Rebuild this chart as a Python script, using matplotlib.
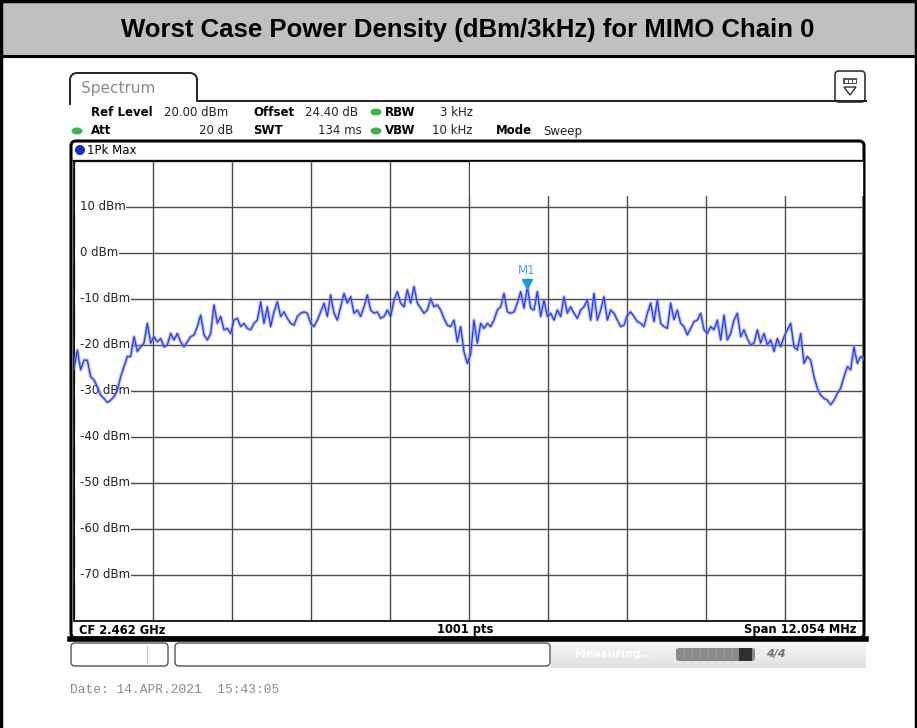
import numpy as np
import matplotlib
matplotlib.use('Agg')
import matplotlib.pyplot as plt
import matplotlib.transforms as mtransforms
from matplotlib.patches import Rectangle, FancyBboxPatch, Ellipse, Polygon

# Sweep settings (from the analyzer screen)
center_mhz = 2462.0
span_mhz = 12.054
ref_level_dbm = 20
bottom_dbm = -80

# 1Pk Max trace (dBm), left to right across the span
level_dbm = [
    -25.1, -21.1, -25.4, -23.3, -23.3, -26.9, -27.6, -29.1, -30.9, -31.6,
    -32.5, -32.0, -31.2, -29.8, -26.9, -24.7, -22.5, -22.5, -18.2, -21.4,
    -20.4, -19.6, -15.3, -19.6, -18.2, -19.3, -18.6, -20.4, -20.0, -17.5,
    -18.9, -17.5, -19.3, -20.4, -19.3, -18.2, -17.8, -16.0, -13.5, -17.8,
    -18.9, -17.5, -11.3, -15.3, -13.8, -16.7, -16.4, -17.5, -14.6, -14.2,
    -16.0, -15.3, -16.4, -16.7, -15.3, -14.6, -10.6, -15.3, -11.7, -16.0,
    -12.8, -10.6, -13.8, -12.8, -14.2, -15.3, -15.7, -13.8, -13.1, -12.8,
    -13.1, -15.3, -16.0, -14.6, -12.8, -10.9, -13.8, -9.1, -13.1, -14.6,
    -11.7, -8.8, -10.9, -9.5, -13.1, -12.4, -13.8, -11.7, -9.1, -12.4,
    -13.1, -12.8, -14.2, -13.8, -12.4, -13.8, -10.2, -8.4, -10.9, -11.7,
    -8.0, -10.9, -7.3, -10.9, -12.0, -13.1, -12.4, -9.9, -11.7, -11.3,
    -12.4, -14.2, -15.7, -16.0, -14.6, -19.3, -16.0, -21.5, -24.0,
    -22.0, -14.6, -19.6, -15.3, -16.4, -15.3, -16.0, -14.6, -12.4, -11.7,
    -8.8, -12.8, -13.1, -12.8, -10.9, -8.4, -12.0, -7.34, -12.0, -12.4,
    -8.4, -13.8, -10.2, -13.8, -13.1, -14.6, -12.4, -13.8, -9.5, -13.1,
    -11.7, -13.1, -14.2, -12.4, -11.7, -10.2, -14.6, -8.8, -14.6, -12.4,
    -9.5, -14.6, -12.4, -13.1, -14.6, -16.0, -15.7, -13.5, -12.8, -13.8,
    -14.9, -15.3, -16.0, -13.1, -10.9, -14.9, -10.2, -15.3, -16.0, -16.4,
    -10.9, -14.5, -12.4, -15.3, -16.0, -17.8, -16.4, -14.9, -14.6, -13.1,
    -16.7, -17.5, -16.0, -16.7, -14.6, -18.9, -13.5, -18.9, -17.5, -14.6,
    -13.1, -18.2, -16.7, -18.6, -20.0, -19.6, -16.7, -19.6, -17.5, -20.0,
    -18.9, -21.4, -18.6, -20.4, -18.2, -16.7, -15.3, -20.4, -21.1, -17.5,
    -24.0, -22.5, -23.3, -26.9, -29.4, -30.9, -31.6, -32.0, -33.0, -32.0,
    -30.5, -29.4, -26.9, -24.7, -25.4, -20.4, -24.0, -22.5, -23.0,
]

y_levels = [10, 0, -10, -20, -30, -40, -50, -60, -70]
y_labels = ['10 dBm', '0 dBm', '-10 dBm', '-20 dBm', '-30 dBm',
            '-40 dBm', '-50 dBm', '-60 dBm', '-70 dBm']

marker_freq_mhz = 2462.879
marker_level_dbm = -7.34

title = 'Worst Case Power Density (dBm/3kHz) for MIMO Chain 0'

f_start = center_mhz - span_mhz / 2
f_stop = center_mhz + span_mhz / 2
freq_mhz = np.linspace(f_start, f_stop, len(level_dbm))  # equidistant sweep points

W, H = 917, 728
fig = plt.figure(figsize=(W / 100, H / 100), dpi=100)

# background axes in pixel units for the screen furniture
bg = fig.add_axes([0, 0, 1, 1])
bg.set_xlim(0, W)
bg.set_ylim(H, 0)
bg.axis('off')

# header band + table border
bg.add_patch(Rectangle((0, 0), W, 56, fc='#c0c0c0', ec='none'))
bg.plot([0, W], [1, 1], color='black', lw=2.5)
bg.plot([0, W], [56, 56], color='black', lw=2.2)
bg.plot([1.2, 1.2], [0, H], color='black', lw=2.5)
bg.plot([915.8, 915.8], [0, H], color='black', lw=2.5)
bg.text(468, 30, title, ha='center', va='center', fontsize=18.5,
        fontweight='bold', family='Liberation Sans')

# Spectrum tab
tab_x = [70, 70, 71, 73, 76, 191, 194, 196, 197, 197, 866]
tab_y = [104, 79, 76, 74, 73, 73, 74, 76, 79, 101, 101]
bg.plot(tab_x, tab_y, color='#222222', lw=1.4)
bg.text(81, 88, 'Spectrum', fontsize=11, color='#8a8a8a', va='center')

# icon at top right
bg.add_patch(FancyBboxPatch((835, 71), 30, 31, boxstyle='round,pad=0,rounding_size=4',
                            fc='white', ec='#333333', lw=1.2))
bg.add_patch(Rectangle((843, 78), 14, 6, fc='#555555', ec='none'))
for sx in [845, 849, 853]:
    bg.add_patch(Rectangle((sx, 79.5), 2.5, 3, fc='white', ec='none'))
bg.add_patch(Polygon([[844, 87], [856, 87], [850, 95]], closed=True,
                     fc='white', ec='#333333', lw=1))

# settings lines
fs = 8.5
green = '#3cb44a'
bg.text(91, 112, 'Ref Level', fontsize=fs, fontweight='bold', va='center')
bg.text(164, 112, '20.00 dBm', fontsize=fs, va='center', color='#222222')
bg.text(253, 112, 'Offset', fontsize=fs, fontweight='bold', va='center')
bg.text(305, 112, '24.40 dB', fontsize=fs, va='center', color='#222222')
bg.text(385, 112, 'RBW', fontsize=fs, fontweight='bold', va='center')
bg.text(473, 112, '3 kHz', fontsize=fs, va='center', ha='right', color='#222222')

bg.text(91, 131, 'Att', fontsize=fs, fontweight='bold', va='center')
bg.text(233, 131, '20 dB', fontsize=fs, va='center', ha='right', color='#222222')
bg.text(253, 131, 'SWT', fontsize=fs, fontweight='bold', va='center')
bg.text(362, 131, '134 ms', fontsize=fs, va='center', ha='right', color='#222222')
bg.text(385, 131, 'VBW', fontsize=fs, fontweight='bold', va='center')
bg.text(473, 131, '10 kHz', fontsize=fs, va='center', ha='right', color='#222222')
bg.text(496, 131, 'Mode', fontsize=fs, fontweight='bold', va='center')
bg.text(543, 131, 'Sweep', fontsize=fs, va='center', color='#222222')
for cx, cy in [(376, 112), (77, 131), (376, 131)]:
    bg.add_patch(Ellipse((cx, cy), 11, 7, fc=green, ec='none'))

# trace panel frame
bg.add_patch(FancyBboxPatch((71, 141), 793, 497, boxstyle='round,pad=0,rounding_size=5',
                            fc='none', ec='black', lw=2.2))
bg.plot([70, 866], [638.5, 638.5], color='black', lw=4)
bg.plot([72, 864], [160, 160], color='#333333', lw=1)
bg.add_patch(Ellipse((80, 150), 9, 9, fc='#1a2fd0', ec='#0a1a80', lw=0.6))
bg.text(87, 150.5, '1Pk Max', fontsize=fs, va='center')
bg.text(79, 630, 'CF 2.462 GHz', fontsize=8.3, fontweight='bold', va='center')
bg.text(465, 630, '1001 pts', fontsize=8.3, fontweight='bold', va='center', ha='center')
bg.text(856, 630, 'Span 12.054 MHz', fontsize=8.3, fontweight='bold', va='center', ha='right')

# status bar
bg.add_patch(FancyBboxPatch((71, 643), 97, 23, boxstyle='round,pad=0,rounding_size=4',
                            fc='white', ec='#555555', lw=1))
bg.plot([147, 147], [646, 663], color='#cccccc', lw=1)
bg.add_patch(FancyBboxPatch((175, 643), 375, 23, boxstyle='round,pad=0,rounding_size=4',
                            fc='white', ec='#555555', lw=1))
grad = np.linspace(0.97, 0.88, 30).reshape(-1, 1)
bg.imshow(grad, extent=(551, 866, 668, 641), cmap='gray', vmin=0, vmax=1,
          aspect='auto', zorder=0.5)
bg.text(575, 654, 'Measuring...', fontsize=8, color='white', fontweight='bold', va='center')
bg.add_patch(FancyBboxPatch((676, 648), 79, 13, boxstyle='round,pad=0,rounding_size=3',
                            fc='#8a8a8a', ec='none'))
bg.add_patch(Rectangle((739, 648), 13, 13, fc='#303030', ec='none'))
for sx in range(684, 740, 8):
    bg.plot([sx, sx], [648, 661], color='#a0a0a0', lw=0.6)
bg.text(776, 654, '4/4', fontsize=8, color='#707070', fontweight='bold',
        va='center', ha='center', style='italic')

bg.text(70, 690, 'Date: 14.APR.2021  15:43:05', fontsize=9.3, family='Liberation Mono',
        color='#8a8a8a', va='center')

# trace axes = grid area
x0, x1, y0, y1 = 74, 864, 161, 621
ax = fig.add_axes([x0 / W, 1 - y1 / H, (x1 - x0) / W, (y1 - y0) / H])
ax.set_xlim(f_start, f_stop)
ax.set_ylim(bottom_dbm, ref_level_dbm)
ax.set_xticks(np.linspace(f_start, f_stop, 11))
ax.set_yticks(range(bottom_dbm, ref_level_dbm + 1, 10))
ax.tick_params(length=0, labelleft=False, labelbottom=False)
ax.grid(True, color='#4a4a4a', lw=1)
ax.set_axisbelow(True)
for s in ax.spines.values():
    s.set_color('black')
    s.set_linewidth(1.2)
ax.patch.set_alpha(0)

# white box for marker readout
ax.add_patch(Rectangle((0.501, 0.923), 0.499, 0.077, transform=ax.transAxes,
                       fc='white', ec='none', zorder=1))

# dBm labels sit on the grid lines, masking their left end
trans_lab = mtransforms.blended_transform_factory(ax.transAxes, ax.transData)
for v, lab in zip(y_levels, y_labels):
    ax.add_patch(Rectangle((0.0015, v - 1.2), 0.01, 2.4, transform=trans_lab,
                           fc='white', ec='none', zorder=1.5))
    ax.text(0.0075, v, lab, transform=trans_lab, fontsize=fs, va='center', ha='left',
            color='#222222', zorder=2, bbox=dict(fc='white', ec='none', pad=0.5))

ax.plot(freq_mhz, level_dbm, color='#8090ff', lw=2.4, alpha=0.6, zorder=3)
ax.plot(freq_mhz, level_dbm, color='#2a3cf0', lw=0.9, zorder=4)

mk = mtransforms.offset_copy(ax.transData, fig=fig, x=0, y=3, units='dots')
ax.plot([marker_freq_mhz], [marker_level_dbm], marker='v', ms=7, color='#1e98e0',
        transform=mk, zorder=5)
ax.annotate('M1', (marker_freq_mhz, marker_level_dbm), xytext=(0, 16),
            textcoords='offset pixels', ha='center', va='center', fontsize=fs,
            color='#40a8e0', zorder=5)

blue = '#1f9ae0'
bg.text(533, 172, 'M1[1]', fontsize=fs, color=blue, fontweight='bold', va='center')
bg.text(860, 172, '-7.34 dBm', fontsize=fs, color=blue, fontweight='bold',
        va='center', ha='right')
bg.text(860, 188, '2.4628790 GHz', fontsize=fs, color=blue, fontweight='bold',
        va='center', ha='right')

fig.savefig('out.png', dpi=100)
